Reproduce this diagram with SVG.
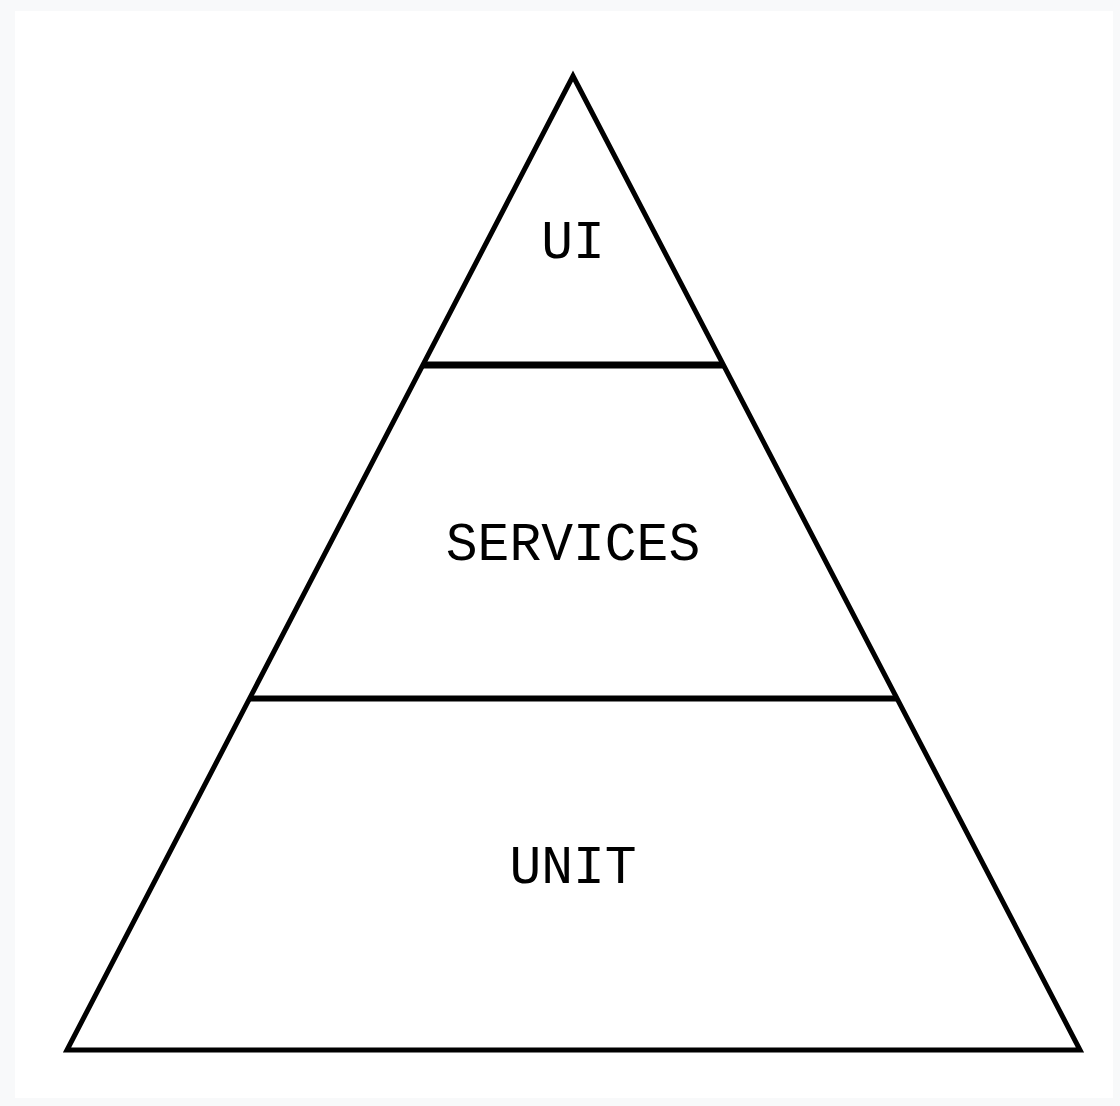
<svg xmlns="http://www.w3.org/2000/svg" width="1120" height="1106" viewBox="0 0 1120 1106">
<style>
.lbl{font-family:"Liberation Mono","Courier New",monospace;font-size:53px;fill:#000;text-anchor:middle}
.edge{stroke:#000;fill:none}
</style>
<rect x="0" y="0" width="1120" height="1106" fill="#f8f9fa"/>
<rect x="15" y="11" width="1098" height="1087" fill="#ffffff"/>
<g id="pyramid">
<polygon points="573,76 67,1050 1080,1050" class="edge" stroke-width="5" stroke-linejoin="miter"/>
</g>
<g id="connectors">
<line x1="423" y1="365" x2="723" y2="365" class="edge" stroke-width="7"/>
<line x1="250" y1="698.5" x2="896" y2="698.5" class="edge" stroke-width="6"/>
</g>
<g id="ui"><text class="lbl" x="573" y="258">UI</text></g>
<g id="services"><text class="lbl" x="573" y="560">SERVICES</text></g>
<g id="unit"><text class="lbl" x="573" y="883">UNIT</text></g>
</svg>
